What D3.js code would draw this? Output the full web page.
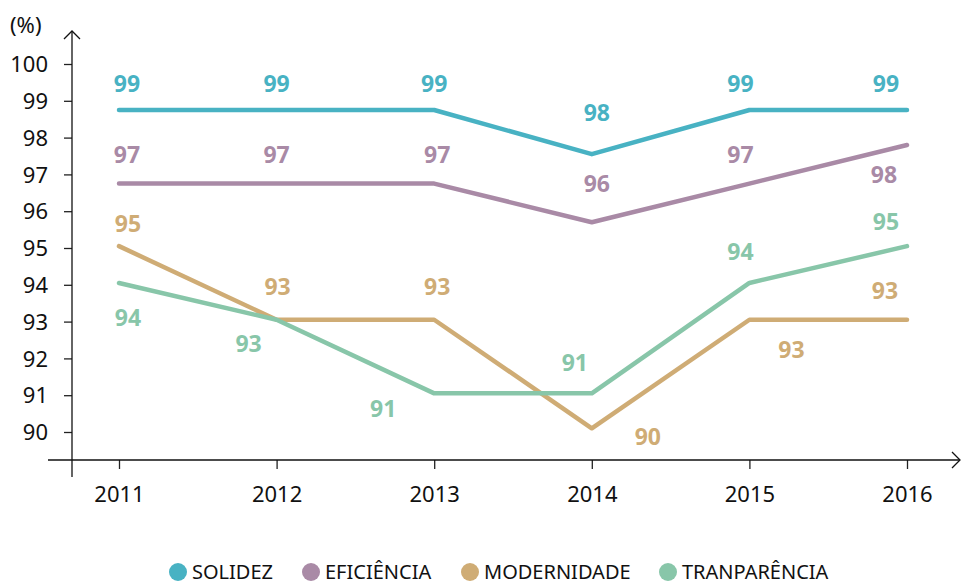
<!DOCTYPE html>
<html>
<head>
<meta charset="utf-8">
<script src="https://cdn.jsdelivr.net/npm/d3@7"></script>
<style>
body { margin: 0; background: #fff; }
text { font-family: "Noto Sans", sans-serif; }
</style>
</head>
<body>
<div id="chart"></div>
<script>
var years = [2011, 2012, 2013, 2014, 2015, 2016];
var yTicks = [90, 91, 92, 93, 94, 95, 96, 97, 98, 99, 100];

var seriesNames = ['SOLIDEZ', 'EFICIÊNCIA', 'MODERNIDADE', 'TRANPARÊNCIA'];
var solidez = [98.75, 98.75, 98.75, 97.55, 98.75, 98.75];
var eficiencia = [96.75, 96.75, 96.75, 95.7, 96.75, 97.8];
var modernidade = [95.05, 93.05, 93.05, 90.1, 93.05, 93.05];
var transparencia = [94.05, 93.05, 91.05, 91.05, 94.05, 95.05];
var colors = ['#48b2c3', '#a98aa6', '#cfac75', '#88c6a9'];

// label nudges (dx, dy) from each point
var labelOffsets = [
    [[8,-26],[0,-26],[0,-26],[5,-41],[-9,-26],[-21,-26]],
    [[8,-29],[0,-29],[3,-29],[5,-38],[-9,-29],[-23,30]],
    [[9,-22],[1,-33],[3,-33],[56,9],[42,30],[-22,-29]],
    [[9,35],[-28,24],[-51,16],[-17,-30],[-9,-31],[-21,-24]]
];

var allSeries = [solidez, eficiencia, modernidade, transparencia];

var dim = { width: 961, height: 584 };

var svg = d3.select('#chart').append('svg')
    .attr('width', dim.width).attr('height', dim.height);

var xScale = d3.scalePoint()
    .domain(years)
    .range([119, 907]);

var yScale = d3.scaleLinear()
    .domain([90, 100])
    .range([432, 64]);

var axisX = 72, axisY = 460;

// y axis
var yAxis = d3.axisLeft(yScale).tickValues(yTicks).tickSize(8).tickPadding(16).tickFormat(d3.format('d'));
var gy = svg.append('g').attr('transform', `translate(${axisX},0)`).call(yAxis);
gy.select('.domain').remove();
gy.selectAll('line').attr('stroke', '#222').attr('stroke-width', 1.3);
gy.selectAll('text').attr('font-size', 22).attr('fill', '#111').attr('dy', '0.35em');

svg.append('line')
    .attr('x1', axisX).attr('x2', axisX).attr('y1', 31).attr('y2', 477)
    .attr('stroke', '#111').attr('stroke-width', 1.3);
svg.append('path')
    .attr('d', `M${axisX - 8},${39} L${axisX},${31} L${axisX + 8},${39}`)
    .attr('fill', 'none').attr('stroke', '#111').attr('stroke-width', 1.3);

// x axis
var xAxis = d3.axisBottom(xScale).tickSize(9).tickPadding(17);
var gx = svg.append('g').attr('transform', `translate(0,${axisY})`).call(xAxis);
gx.select('.domain').remove();
gx.selectAll('line').attr('stroke', '#222').attr('stroke-width', 1.3);
gx.selectAll('text').attr('font-size', 22).attr('fill', '#111');

svg.append('line')
    .attr('x1', 48).attr('x2', 960).attr('y1', axisY).attr('y2', axisY)
    .attr('stroke', '#111').attr('stroke-width', 1.3);
svg.append('path')
    .attr('d', `M${952},${axisY - 8} L${960},${axisY} L${952},${axisY + 8}`)
    .attr('fill', 'none').attr('stroke', '#111').attr('stroke-width', 1.3);

svg.append('text')
    .attr('x', 10).attr('y', 33)
    .attr('font-size', 22).attr('fill', '#111')
    .text('(%)');

var line = d3.line()
    .x((d, i) => xScale(years[i]))
    .y(d => yScale(d));

allSeries.forEach(function(values, s) {
    svg.append('path')
        .datum(values)
        .attr('d', line)
        .attr('fill', 'none')
        .attr('stroke', colors[s])
        .attr('stroke-width', 4.5)
        .attr('stroke-linecap', 'round')
        .attr('stroke-linejoin', 'round');

    svg.append('g').selectAll('text')
        .data(values)
        .join('text')
        .attr('x', (d, i) => xScale(years[i]) + labelOffsets[s][i][0])
        .attr('y', (d, i) => yScale(d) + labelOffsets[s][i][1])
        .attr('dy', '0.35em')
        .attr('text-anchor', 'middle')
        .attr('font-size', 23)
        .attr('font-weight', 'bold')
        .attr('fill', colors[s])
        .text(d => Math.round(d));
});

// legend
var legendX = [178, 311, 470, 668];
var legend = svg.append('g').selectAll('g')
    .data(seriesNames)
    .join('g')
    .attr('transform', (d, i) => `translate(${legendX[i]},572)`);
legend.append('circle').attr('r', 9).attr('fill', (d, i) => colors[i]);
legend.append('text')
    .attr('x', 14).attr('dy', '0.35em')
    .attr('font-size', 20).attr('fill', '#111')
    .text(d => d);
</script>
</body>
</html>
